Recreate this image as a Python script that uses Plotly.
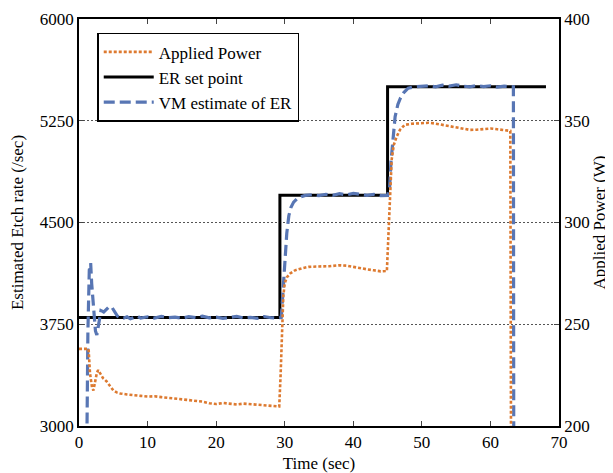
import plotly.graph_objects as go

# ---- data ----
setpoint_t = [0, 29.3, 29.3, 45.0, 45.0, 68.1]
setpoint_er = [3800, 3800, 4700, 4700, 5500, 5500]

vm_t = [1.15, 1.3, 1.5, 1.7, 1.85, 2.1, 2.4, 2.6, 2.9, 3.2, 3.6, 4.0, 4.4, 4.8, 5.2, 5.6,
        6.0, 6.5, 7, 7.5, 8, 8.5, 9, 9.5, 10, 11, 12, 13, 14, 15, 16, 17, 18, 19, 20,
        21, 22, 23, 24, 25, 26, 27, 28, 29, 29.5, 29.7, 29.9, 30.1, 30.3, 30.6, 30.9,
        31.3, 31.8, 32.4, 33, 34, 35, 36, 37, 38, 39, 40, 41, 42, 43, 44, 45, 45.3,
        45.5, 45.8, 46.1, 46.5, 46.9, 47.4, 48, 49, 50, 51, 52, 53, 54, 55, 56, 57,
        58, 59, 60, 61, 62, 63, 63.35, 63.4]
vm_er = [2900, 3700, 4150, 4200, 4050, 3850, 3700, 3670, 3780, 3850, 3840, 3860, 3880,
         3875, 3840, 3810, 3800, 3795, 3805, 3790, 3800, 3810, 3795, 3800, 3805, 3795,
         3808, 3798, 3803, 3794, 3806, 3799, 3810, 3797, 3803, 3793, 3800, 3808, 3796,
         3801, 3794, 3807, 3798, 3795, 3800, 3950, 4100, 4280, 4420, 4550, 4610, 4650,
         4675, 4690, 4700, 4705, 4698, 4708, 4700, 4712, 4703, 4715, 4705, 4700, 4708,
         4698, 4700, 4760, 4950, 5150, 5280, 5370, 5420, 5460, 5490, 5500, 5505, 5508,
         5500, 5512, 5505, 5515, 5505, 5500, 5510, 5502, 5508, 5498, 5505, 5500, 5500,
         2900]

power_t = [0, 1.4, 1.6, 1.9, 2.1, 2.3, 2.6, 2.8, 3.1, 3.5, 4.0, 4.5, 5.0, 5.5, 6.0, 7, 8,
           9, 10, 11, 12, 13, 14, 15, 16, 17, 18, 19, 20, 21, 22, 23, 24, 25, 26, 27, 28,
           29.2, 29.4, 29.6, 29.8, 30.0, 30.3, 30.8, 31.5, 32.5, 33.5, 35, 36.5, 38, 39,
           40, 41, 42, 43, 44, 44.9, 45.0, 45.2, 45.4, 45.6, 45.9, 46.3, 46.8, 47.5,
           48.5, 50, 51, 52, 53, 54, 55, 56, 57, 58, 59, 60, 61, 62, 62.9, 63.0]
power_w = [237.9, 237.9, 226, 219, 217.5, 221, 226, 227.5, 226, 223.5, 222, 220, 217.5,
           216.5, 216, 215.5, 215, 214.8, 214.5, 214.6, 214.2, 213.8, 213.5, 213.2, 212.8,
           212.5, 212, 211.2, 210.8, 211.3, 211, 210.6, 211, 210.7, 210.4, 210.2, 209.8,
           209.6, 225, 250, 264, 270, 273, 275, 276.5, 277.5, 278.2, 278.4, 278.5, 279,
           278.8, 278.2, 277.5, 277, 276.5, 276, 276.2, 285, 300, 317, 331, 338, 342,
           345.5, 348, 348.5, 348.7, 349, 348.6, 348, 347.4, 346.8, 346.2, 345.5, 345.6,
           346, 346.2, 345.8, 345.3, 345, 195]

er_ticks = [3000, 3750, 4500, 5250, 6000]
power_ticks = [200, 250, 300, 350, 400]
time_ticks = [0, 10, 20, 30, 40, 50, 60, 70]

FONT = "Liberation Serif"

fig = go.Figure()
fig.add_trace(go.Scatter(x=power_t, y=power_w, name="Applied Power", mode="lines",
                         yaxis="y2",
                         line=dict(color="#DD7A30", width=2.6, dash="3px,2px")))
fig.add_trace(go.Scatter(x=setpoint_t, y=setpoint_er, name="ER set point", mode="lines",
                         line=dict(color="black", width=3)))
fig.add_trace(go.Scatter(x=vm_t, y=vm_er, name="VM estimate of ER", mode="lines",
                         line=dict(color="#5876B4", width=3.2, dash="11px,5px")))

# page body has an 8px margin, so the figure is sized/offset to compensate
fig.update_layout(
    width=605, height=465,
    margin=dict(l=71, r=54, t=11, b=47),
    paper_bgcolor="white", plot_bgcolor="white",
    font=dict(family=FONT, size=17, color="black"),
    showlegend=True,
    legend=dict(x=0.038, y=0.966, xanchor="left", yanchor="top",
                bordercolor="black", borderwidth=1.5, bgcolor="white",
                font=dict(family=FONT, size=17), itemwidth=50,
                tracegroupgap=0),
    xaxis=dict(range=[0, 70], tickvals=time_ticks, ticks="inside", ticklen=5,
               showline=True, linecolor="black", linewidth=1.5, mirror="ticks",
               showgrid=False, zeroline=False, automargin=False,
               tickfont=dict(size=17),
               title=dict(text="Time (sec)", standoff=6, font=dict(size=17))),
    yaxis=dict(range=[3000, 6000], tickvals=er_ticks, ticks="inside", ticklen=5,
               showline=True, linecolor="black", linewidth=1.5, mirror=True,
               showgrid=True, gridcolor="#555555", gridwidth=1, griddash="2px,2px",
               zeroline=False, automargin=False, tickfont=dict(size=17),
               title=dict(text="Estimated Etch rate (/sec)", standoff=18, font=dict(size=17))),
    yaxis2=dict(range=[200, 400], tickvals=power_ticks, overlaying="y", side="right",
                ticks="inside", ticklen=5, showline=True, linecolor="black",
                linewidth=1.5, showgrid=False, zeroline=False, automargin=False,
                tickfont=dict(size=17),
                title=dict(text="Applied Power (W)", standoff=0, font=dict(size=17))),
)

fig.write_html("out.html")
